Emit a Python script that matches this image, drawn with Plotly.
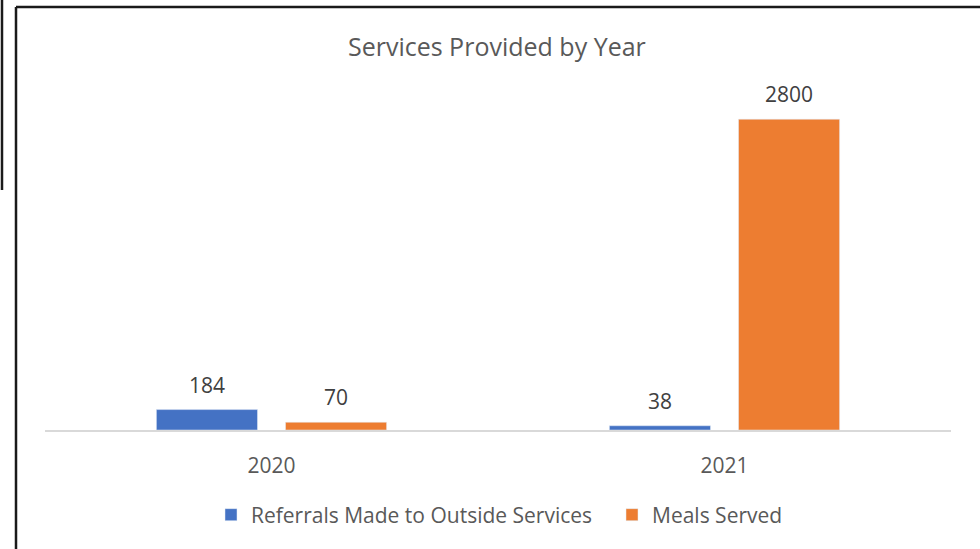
import plotly.graph_objects as go

# Data
YEARS = ["2020", "2021"]
REFERRALS = [184, 38]
MEALS = [70, 2800]

BLUE = "#4472C4"
ORANGE = "#ED7D31"
FONT = "Open Sans"

# Plot area in pixels (980x549 canvas)
W, H = 980, 549
L, R, T, B = 45, 29, 97, 119


def px_x(x):
    return (x - L) / (W - L - R)


def px_y(y):
    return (H - B - y) / (H - T - B)


fig = go.Figure()
fig.add_trace(go.Bar(x=YEARS, y=REFERRALS, name="Referrals Made to Outside Services",
                     marker_color=BLUE, legend="legend"))
fig.add_trace(go.Bar(x=YEARS, y=MEALS, name="Meals Served", marker_color=ORANGE,
                     legend="legend2"))

# data labels above each bar (category index, shifted to the bar's slot in the group)
for vals, shift in [(REFERRALS, -64.5), (MEALS, 64.5)]:
    for i, v in enumerate(vals):
        fig.add_annotation(x=i, y=v, xref="x", yref="y", text=str(v), showarrow=False,
                           xshift=shift, yshift=25, yanchor="middle",
                           font=dict(size=21, color="#404040", family=FONT))

# Frame lines seen on the screenshot
frame = [
    (px_x(16), px_y(7), px_x(W), px_y(7)),
    (px_x(16), px_y(7), px_x(16), px_y(H)),
    (px_x(2), px_y(0), px_x(2), px_y(190)),
]
for x0, y0, x1, y1 in frame:
    fig.add_shape(type="line", xref="paper", yref="paper", x0=x0, y0=y0, x1=x1, y1=y1,
                  line=dict(color="#1a1a1a", width=2.5))

legend_style = dict(orientation="h", xanchor="left", y=px_y(515), yanchor="middle",
                    font=dict(size=21, color="#595959"), itemwidth=30,
                    bgcolor="rgba(0,0,0,0)")

fig.update_layout(
    width=W,
    height=H,
    margin=dict(l=L, r=R, t=T, b=B, autoexpand=False),
    paper_bgcolor="white",
    plot_bgcolor="white",
    font=dict(family=FONT, color="#595959"),
    title=dict(text="Services Provided by Year", x=0.507, xanchor="center",
               y=1 - 47 / H, yanchor="middle", font=dict(size=25, color="#595959")),
    barmode="group",
    bargap=0.43,
    bargroupgap=0.217,
    showlegend=True,
    legend=dict(x=px_x(211), **legend_style),
    legend2=dict(x=px_x(612), **legend_style),
    xaxis=dict(type="category", showline=True, linecolor="#D9D9D9", linewidth=1.5, ticks="",
               ticklabelstandoff=16,
               tickfont=dict(size=21, color="#595959"), showgrid=False),
    yaxis=dict(range=[0, 3000], visible=False, showgrid=False),
)

fig.write_html("out.html", config={"displayModeBar": False},
               post_script="document.body.style.margin='0';")
